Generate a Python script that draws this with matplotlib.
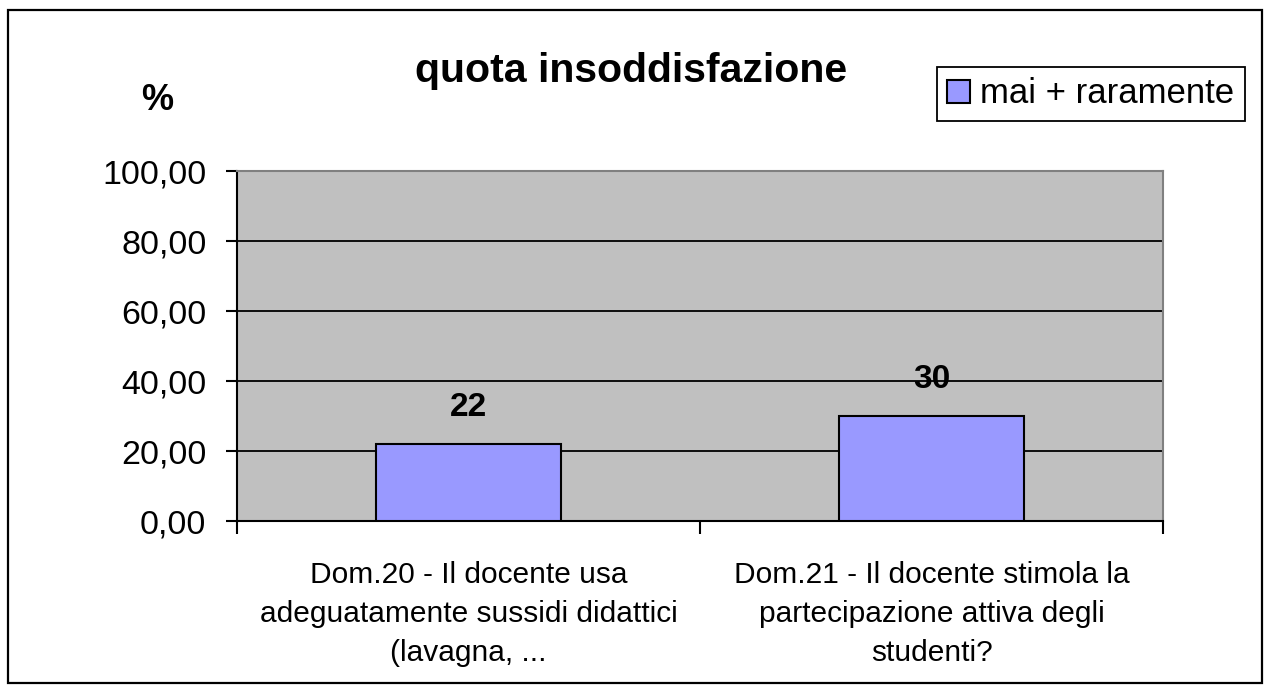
import matplotlib
matplotlib.use("Agg")
import matplotlib.pyplot as plt
from matplotlib.ticker import FuncFormatter, FixedLocator
from matplotlib.patches import Rectangle

# Data
categories = [
    "Dom.20 - Il docente usa\nadeguatamente sussidi didattici\n(lavagna, ...",
    "Dom.21 - Il docente stimola la\npartecipazione attiva degli\nstudenti?",
]
values = [22, 30]
value_labels = ["22", "30"]
series_name = "mai + raramente"
title = "quota insoddisfazione"
y_unit = "%"
y_ticks = [0, 20, 40, 60, 80, 100]

plt.rcParams["font.family"] = ["Liberation Sans", "DejaVu Sans"]

W, H = 1271, 691
fig = plt.figure(figsize=(W / 100, H / 100), dpi=100)
fig.patch.set_facecolor("white")

# Outer chart frame
fig.add_artist(Rectangle((8 / W, 1 - 683 / H), (1262 - 8) / W, (683 - 10) / H,
                         transform=fig.transFigure, fill=False,
                         edgecolor="black", linewidth=1.6))

ax = fig.add_axes([237 / W, 1 - 521 / H, (1163 - 237) / W, (521 - 171) / H])
ax.set_facecolor("#C0C0C0")

x = list(range(len(categories)))
bars = ax.bar(x, values, width=0.4, color="#9999FF", edgecolor="black",
              linewidth=1.5, label=series_name, zorder=3)

ax.set_xlim(-0.5, len(categories) - 0.5)
ax.set_ylim(0, 100)

# Horizontal gridlines
for t in y_ticks[1:-1]:
    ax.axhline(t, color="black", linewidth=1.3, zorder=1)

# Spines
for side in ("top", "right"):
    ax.spines[side].set_color("#808080")
    ax.spines[side].set_linewidth(1.5)
for side in ("left", "bottom"):
    ax.spines[side].set_color("black")
    ax.spines[side].set_linewidth(1.5)

# Y axis
ax.set_yticks(y_ticks)
ax.yaxis.set_major_formatter(FuncFormatter(lambda v, p: f"{v:.2f}".replace(".", ",")))
ax.tick_params(axis="y", direction="out", length=8, width=1.5, pad=14,
               labelsize=24.5)

# X axis: labels at category centres, tick marks at category boundaries
ax.set_xticks(x)
ax.set_xticklabels(categories, fontsize=21.5, linespacing=1.5)
ax.tick_params(axis="x", which="major", length=0, pad=29)
ax.xaxis.set_minor_locator(FixedLocator([-0.5, 0.5, 1.5]))
ax.tick_params(axis="x", which="minor", direction="out", length=9, width=1.5)

# Value labels
for xi, v, lab in zip(x, values, value_labels):
    ax.annotate(lab, (xi, v), xytext=(0, 15), textcoords="offset points",
                ha="center", va="bottom", fontsize=24, fontweight="bold",
                zorder=4)

# Title and unit
fig.text(631 / W, 1 - 71 / H, title, ha="center", va="center",
         fontsize=29.5, fontweight="bold")
fig.text(157 / W, 1 - 101 / H, y_unit, ha="center", va="center",
         fontsize=26, fontweight="bold")

# Legend
leg = ax.legend(loc="upper right", bbox_to_anchor=(1245 / W, 1 - 67 / H),
                bbox_transform=fig.transFigure, borderaxespad=0,
                fontsize=25, fancybox=False, shadow=False, framealpha=1,
                edgecolor="black", handlelength=0.65, handleheight=0.65,
                handletextpad=0.3, borderpad=0.3)
leg.get_frame().set_linewidth(1.3)

fig.savefig("out.png", dpi=100)
